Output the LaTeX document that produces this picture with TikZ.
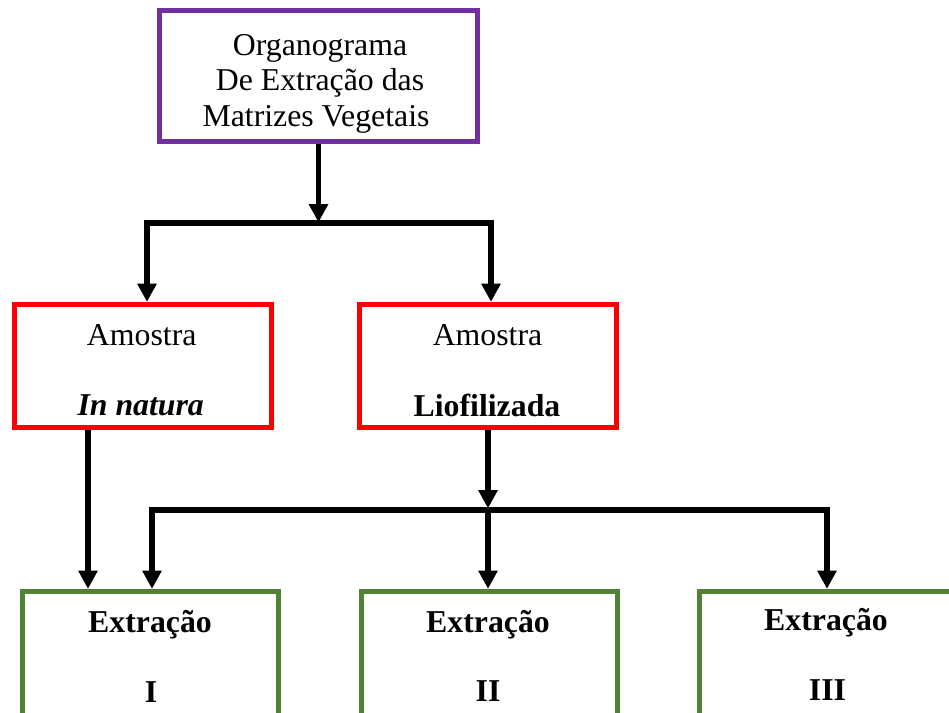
\documentclass[tikz,border=0pt]{standalone}
\usepackage{fontspec}
\setmainfont{Liberation Serif}
\usetikzlibrary{arrows.meta}
\definecolor{boxpurple}{HTML}{7030A0}
\definecolor{boxred}{HTML}{FF0000}
\definecolor{boxgreen}{HTML}{538135}
\begin{document}
\begin{tikzpicture}[x=1pt,y=-1pt,
  every node/.style={font=\fontsize{31.8}{35}\selectfont},
  box/.style={draw=#1, line width=5pt, rectangle, inner sep=0pt, outer sep=2.5pt},
  txt/.style={anchor=base, inner sep=0pt},
  arr/.style={line width=5.5pt, -{Triangle[width=20pt,length=18pt,line width=0pt]}},
  arr2/.style={line width=5.5pt, {Triangle[width=20pt,length=18pt,line width=0pt]}-{Triangle[width=20pt,length=18pt,line width=0pt]}}]
\useasboundingbox (0,0) rectangle (949,712);
\fill[white] (0,0) rectangle (949,712);
\clip (0,0) rectangle (949,712);

% boxes
\node[box=boxpurple, minimum width=318pt, minimum height=130.5pt] (top) at (318.5,75.75) {};
\node[box=boxred, minimum width=257pt, minimum height=123.5pt] (aL) at (142.5,365.75) {};
\node[box=boxred, minimum width=257pt, minimum height=123.5pt] (aR) at (487.5,365.75) {};
\node[box=boxgreen, minimum width=255.5pt, minimum height=139pt] (e1) at (150.25,660.5) {};
\node[box=boxgreen, minimum width=256.5pt, minimum height=139pt] (e2) at (489.25,660.5) {};
\node[box=boxgreen, minimum width=255pt, minimum height=139pt] (e3) at (826.5,660.5) {};

% texts
\node[txt] (t1) at (320,55) {Organograma};
\node[txt] (t2) at (320,90) {De Extração das};
\node[txt] (t3) at (316,126) {Matrizes Vegetais};
\node[txt] (aL1) at (141.7,345) {Amostra};
\node[txt] (aL2) at (140.7,415) {\textbf{\textit{In natura}}};
\node[txt] (aR1) at (487.5,345) {Amostra};
\node[txt] (aR2) at (487,416) {\textbf{Liofilizada}};
\node[txt] (e1a) at (150,632) {\textbf{Extração}};
\node[txt] (e1b) at (151,702) {\textbf{I}};
\node[txt] (e2a) at (488,632) {\textbf{Extração}};
\node[txt] (e2b) at (488,701) {\textbf{II}};
\node[txt] (e3a) at (826,630) {\textbf{Extração}};
\node[txt] (e3b) at (827.5,700) {\textbf{III}};

% junction coordinates
\coordinate (j1) at (318.5,222);
\coordinate (hL) at (147,223);
\coordinate (hR) at (491,223);
\coordinate (xL) at (88,0);
\coordinate (j2) at (488,508);
\coordinate (j2b) at (488,510);
\coordinate (gL) at (152,510);
\coordinate (gR) at (827,510);

% connectors
\draw[arr] (top.south) -- (j1);
\draw[arr2] (aL.north -| hL) -- (hL) -- (hR) -- (aR.north -| hR);
\draw[arr] (aL.south -| xL) -- (e1.north -| xL);
\draw[arr] (aR.south -| j2) -- (j2);
\draw[arr2] (e1.north -| gL) -- (gL) -- (gR) -- (e3.north -| gR);
\draw[arr] (j2b) -- (e2.north -| j2b);
\end{tikzpicture}
\end{document}
